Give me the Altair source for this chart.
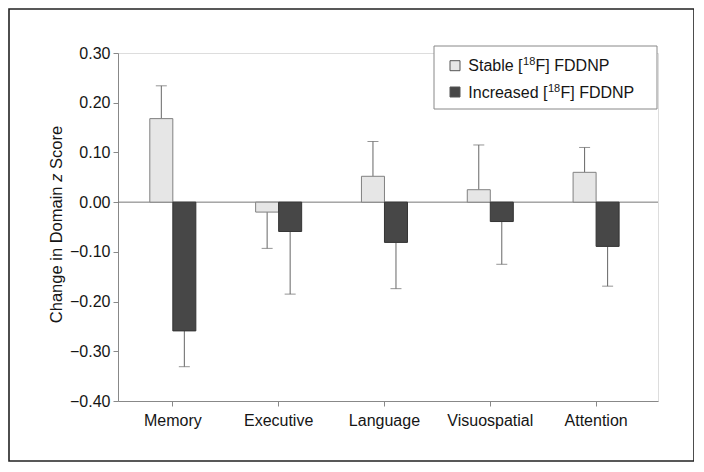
import altair as alt
import pandas as pd

categories = ["Memory", "Executive", "Language", "Visuospatial", "Attention"]
groups = ["Stable [18F] FDDNP", "Increased [18F] FDDNP"]
stable = [0.168, -0.020, 0.052, 0.025, 0.060]
stable_tip = [0.234, -0.093, 0.122, 0.115, 0.110]
increased = [-0.259, -0.059, -0.081, -0.039, -0.089]
increased_tip = [-0.331, -0.185, -0.174, -0.125, -0.169]
y_ticks = [0.30, 0.20, 0.10, 0.00, -0.10, -0.20, -0.30, -0.40]
legend_prefix = ["Stable [", "Increased ["]
legend_sup = ["18", "18"]
legend_suffix = ["F] FDDNP", "F] FDDNP"]

FONT = "Liberation Sans"
FS = 16
FILLS = ["#e6e6e6", "#474747"]
STROKES = ["#808080", "#333333"]
TXT = "#151515"

rows = []
for i, c in enumerate(categories):
    rows.append({"domain": c, "group": groups[0], "value": stable[i], "tip": stable_tip[i]})
    rows.append({"domain": c, "group": groups[1], "value": increased[i], "tip": increased_tip[i]})
df = pd.DataFrame(rows)

x_enc = alt.X("domain:N", sort=categories,
              scale=alt.Scale(paddingInner=0.565, paddingOuter=0.334, align=0.45),
              axis=alt.Axis(title=None, labelAngle=0, labelAlign="center", labelBaseline="top",
                            bandPosition=0.5,
                            labelFont=FONT, labelFontSize=FS,
                            labelColor=TXT, domainColor="#888", tickColor="#888",
                            tickSize=5, labelPadding=6))
xo_enc = alt.XOffset("group:N", sort=groups, scale=alt.Scale(paddingInner=0, paddingOuter=0))
y_scale = alt.Scale(domain=[-0.4, 0.3], nice=False)

base = alt.Chart(df)

bars = base.mark_bar(strokeWidth=1).encode(
    x=x_enc,
    xOffset=xo_enc,
    y=alt.Y("value:Q", scale=y_scale,
            axis=alt.Axis(title=None, values=y_ticks, format=".2f", grid=False,
                          labelFont=FONT, labelFontSize=FS, labelColor=TXT,
                          domainColor="#888", tickColor="#888", tickSize=5, labelPadding=3)),
    fill=alt.Fill("group:N", sort=groups, scale=alt.Scale(domain=groups, range=FILLS), legend=None),
    stroke=alt.Stroke("group:N", sort=groups, scale=alt.Scale(domain=groups, range=STROKES), legend=None),
)

err = base.mark_rule(color="#666", strokeWidth=1).encode(
    x=alt.X("domain:N", sort=categories), xOffset=alt.XOffset("group:N", sort=groups),
    y=alt.Y("value:Q"), y2="tip:Q")

caps = base.mark_tick(color="#666", thickness=1, size=11, orient="horizontal").encode(
    x=alt.X("domain:N", sort=categories), xOffset=alt.XOffset("group:N", sort=groups),
    y=alt.Y("tip:Q"))

zero = alt.Chart(pd.DataFrame({"z": [0]})).mark_rule(color="#777", strokeWidth=1).encode(
    y=alt.Y("z:Q"))

one = pd.DataFrame({"a": [0]})

frame = alt.Chart(one).mark_rect(
    fillOpacity=0, stroke="#222", strokeWidth=1.6).encode(
    x=alt.value(-109), x2=alt.value(576), y=alt.value(-44), y2=alt.value(408))

# y-axis title with italic z
title_common = dict(angle=270, font=FONT, fontSize=16.5, color=TXT, baseline="middle")
TX = -61.5
t1 = alt.Chart(pd.DataFrame({"t": ["Change in Domain"]})).mark_text(align="right", **title_common).encode(
    text="t:N", x=alt.value(TX), y=alt.value(133.5))
t2 = alt.Chart(pd.DataFrame({"t": ["z"]})).mark_text(align="center", fontStyle="italic", **title_common).encode(
    text="t:N", x=alt.value(TX), y=alt.value(124.7))
t3 = alt.Chart(pd.DataFrame({"t": ["Score"]})).mark_text(align="left", **title_common).encode(
    text="t:N", x=alt.value(TX), y=alt.value(116))

# legend drawn by hand (superscripts)
leg_box = alt.Chart(one).mark_rect(fill="white", stroke="#888", strokeWidth=1).encode(
    x=alt.value(316), x2=alt.value(539), y=alt.value(-7), y2=alt.value(56))

legend_layers = [leg_box]
row_base = [18.3, 45.0]
sym_y = [12.7, 39.0]
TX0 = 350.3
prefix_w = [54.3, 79.2]
for i in range(2):
    legend_layers.append(
        alt.Chart(one).mark_square(size=100, fill=FILLS[i], stroke="#555", strokeWidth=1, opacity=1).encode(
            x=alt.value(337), y=alt.value(sym_y[i])))
    legend_layers.append(
        alt.Chart(pd.DataFrame({"t": [legend_prefix[i]]})).mark_text(
            align="left", baseline="alphabetic", font=FONT, fontSize=FS, color=TXT).encode(
            text="t:N", x=alt.value(TX0), y=alt.value(row_base[i])))
    legend_layers.append(
        alt.Chart(pd.DataFrame({"t": [legend_sup[i]]})).mark_text(
            align="left", baseline="alphabetic", font=FONT, fontSize=11, color=TXT).encode(
            text="t:N", x=alt.value(TX0 + prefix_w[i] + 0.5), y=alt.value(row_base[i] - 6.5)))
    legend_layers.append(
        alt.Chart(pd.DataFrame({"t": [legend_suffix[i]]})).mark_text(
            align="left", baseline="alphabetic", font=FONT, fontSize=FS, color=TXT).encode(
            text="t:N", x=alt.value(TX0 + prefix_w[i] + 13.0), y=alt.value(row_base[i])))

chart = alt.layer(frame, zero, err, bars, caps, t1, t2, t3, *legend_layers).properties(
    width=540, height=348,
    padding={"left": 110, "top": 45, "right": 36, "bottom": 62},
    autosize=alt.AutoSizeParams(type="none"),
).configure_view(stroke=None).configure(background="white")

chart.save("out.html", embed_options={"renderer": "svg", "actions": False})
